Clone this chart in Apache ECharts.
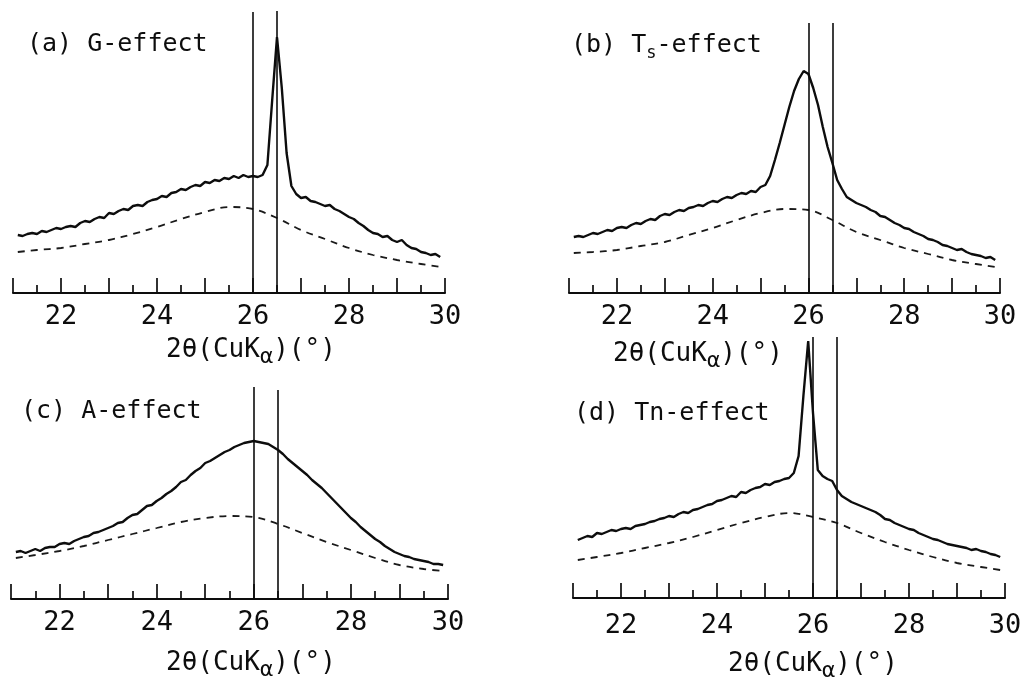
<!DOCTYPE html>
<html>
<head>
<meta charset="utf-8">
<script src="https://cdn.jsdelivr.net/npm/echarts@6/dist/echarts.min.js"></script>
<style>
  html, body { margin: 0; padding: 0; background: #fff; }
  #main { width: 1027px; height: 681px; }
</style>
</head>
<body>
<div id="main"></div>
<script>
  // 2θ (deg) sampling of the measured traces
  var xFine = [21.1, 21.2, 21.3, 21.4, 21.5, 21.6, 21.7, 21.8, 21.9, 22.0,
               22.1, 22.2, 22.3, 22.4, 22.5, 22.6, 22.7, 22.8, 22.9, 23.0,
               23.1, 23.2, 23.3, 23.4, 23.5, 23.6, 23.7, 23.8, 23.9, 24.0,
               24.1, 24.2, 24.3, 24.4, 24.5, 24.6, 24.7, 24.8, 24.9, 25.0,
               25.1, 25.2, 25.3, 25.4, 25.5, 25.6, 25.7, 25.8, 25.9, 26.0,
               26.1, 26.2, 26.3, 26.4, 26.5, 26.6, 26.7, 26.8, 26.9, 27.0,
               27.1, 27.2, 27.3, 27.4, 27.5, 27.6, 27.7, 27.8, 27.9, 28.0,
               28.1, 28.2, 28.3, 28.4, 28.5, 28.6, 28.7, 28.8, 28.9, 29.0,
               29.1, 29.2, 29.3, 29.4, 29.5, 29.6, 29.7, 29.8, 29.9];
  // 2θ sampling of the dashed (amorphous) background curves
  var xSmooth = [21.1, 21.5, 22, 22.5, 23, 23.5, 24, 24.5, 25, 25.5, 26, 26.5, 27, 27.5, 28, 28.5, 29, 29.5, 29.9];

  // intensity, arbitrary units
  var gSolid = [58, 57, 59, 60, 59, 62, 61, 63, 65, 64,
                66, 67, 66, 70, 72, 71, 74, 76, 75, 80,
                79, 82, 84, 83, 87, 88, 87, 91, 93, 94,
                97, 96, 100, 101, 104, 103, 106, 108, 107, 111,
                110, 113, 112, 115, 114, 117, 115, 118, 116, 117,
                116, 118, 128, 193, 256, 205, 140, 107, 99, 95,
                96, 92, 91, 89, 87, 88, 84, 82, 79, 76,
                74, 70, 67, 63, 60, 59, 56, 57, 53, 51,
                53, 48, 45, 44, 41, 40, 38, 39, 36];
  var gDashed = [41, 43, 45, 49, 53, 59, 66, 74, 81, 86, 84, 75, 63, 54, 45, 38, 33, 29, 26];

  var tsSolid = [56, 57, 56, 58, 60, 59, 61, 63, 62, 65,
                 66, 65, 68, 70, 69, 72, 74, 73, 77, 79,
                 78, 81, 83, 82, 85, 86, 88, 87, 90, 92,
                 91, 94, 96, 95, 98, 100, 99, 102, 101, 106,
                 108, 117, 133, 150, 168, 186, 202, 214, 222, 219,
                 205, 188, 166, 146, 130, 113, 104, 96, 93, 90,
                 88, 86, 83, 81, 77, 76, 73, 70, 68, 65,
                 64, 61, 59, 57, 54, 53, 51, 48, 47, 45,
                 43, 44, 41, 39, 38, 37, 35, 36, 33];
  var tsDashed = [40, 41, 43, 47, 51, 58, 65, 73, 80, 84, 83, 73, 61, 53, 45, 39, 33, 29, 26];

  var aSolid = [47, 48, 46, 48, 50, 48, 51, 52, 52, 55,
                56, 55, 58, 60, 62, 63, 66, 67, 69, 71,
                73, 76, 77, 81, 84, 85, 89, 93, 94, 98,
                101, 105, 108, 112, 117, 119, 124, 128, 131, 136,
                138, 141, 144, 147, 149, 152, 154, 156, 157, 158,
                157, 156, 155, 152, 149, 145, 140, 136, 132, 128,
                124, 119, 115, 111, 106, 101, 96, 91, 86, 81,
                77, 72, 68, 64, 60, 57, 53, 50, 47, 45,
                43, 42, 40, 39, 38, 37, 35, 35, 34];
  var aDashed = [41, 44, 48, 53, 59, 65, 71, 77, 81, 83, 82, 75, 66, 57, 49, 41, 34, 30, 28];

  var tnSolid = [58, 60, 62, 61, 65, 64, 66, 68, 67, 69,
                 70, 69, 72, 73, 74, 76, 77, 79, 80, 82,
                 81, 84, 86, 85, 88, 89, 91, 93, 94, 97,
                 98, 100, 102, 101, 106, 105, 108, 110, 111, 114,
                 113, 116, 117, 119, 120, 125, 142, 202, 257, 185,
                 128, 122, 119, 117, 108, 102, 99, 96, 94, 92,
                 90, 88, 86, 83, 79, 78, 75, 73, 71, 69,
                 68, 65, 63, 61, 59, 58, 56, 54, 53, 52,
                 51, 50, 48, 49, 47, 46, 44, 43, 41];
  var tnDashed = [38, 41, 45, 50, 55, 61, 68, 75, 81, 85, 81, 75, 65, 56, 48, 41, 35, 31, 28];

  // reference lines (2θ) and how high each one is drawn
  var markerX = [26, 26.5];
  var gMarkTop = [281, 282];
  var tsMarkTop = [270, 270];
  var aMarkTop = [212, 209];
  var tnMarkTop = [261, 261];

  var tickLabels = [22, 24, 26, 28, 30];

  var FONT = 'DejaVu Sans Mono';
  var INK = '#0d0d0d';

  var panels = [
    {title: '(a) G-effect', solid: gSolid, dashed: gDashed, markTop: gMarkTop,
     grid: {left: 13, top: 3, width: 432, height: 290}, labelMargin: 10,
     titlePos: [27, 32], namePos: [166, 332]},
    {title: '(b) T{sub|s}-effect', solid: tsSolid, dashed: tsDashed, markTop: tsMarkTop,
     grid: {left: 569, top: 3, width: 431, height: 290}, labelMargin: 10,
     titlePos: [571, 29], namePos: [613, 336]},
    {title: '(c) A-effect', solid: aSolid, dashed: aDashed, markTop: aMarkTop,
     grid: {left: 11, top: 309, width: 437, height: 290}, labelMargin: 10,
     titlePos: [21, 399], namePos: [166, 645]},
    {title: '(d) Tn-effect', solid: tnSolid, dashed: tnDashed, markTop: tnMarkTop,
     grid: {left: 573, top: 308, width: 432, height: 290}, labelMargin: 14,
     titlePos: [574, 401], namePos: [728, 646]}
  ];

  var subRich = {
    sub: {fontFamily: FONT, fontSize: 17, color: INK, padding: [16, 0, 0, 0]}
  };

  var option = {
    animation: false,
    backgroundColor: '#fff',
    title: [],
    grid: [],
    xAxis: [],
    yAxis: [],
    series: []
  };

  panels.forEach(function (p, i) {
    option.grid.push(p.grid);

    option.title.push({
      text: p.title,
      left: p.titlePos[0], top: p.titlePos[1], padding: 0,
      textStyle: {fontFamily: FONT, fontSize: 25, fontWeight: 'normal', color: INK, rich: subRich}
    });
    option.title.push({
      text: '2θ(CuK{sub|α})(°)',
      left: p.namePos[0], top: p.namePos[1], padding: 0,
      textStyle: {fontFamily: FONT, fontSize: 26, fontWeight: 'normal', color: INK,
                  rich: {sub: {fontFamily: FONT, fontSize: 22, color: INK, padding: [14, 0, 0, 0]}}}
    });

    option.xAxis.push({
      gridIndex: i, type: 'value', min: 21, max: 30, interval: 1,
      axisLine: {lineStyle: {color: INK, width: 2}},
      axisTick: {inside: true, length: 15, lineStyle: {color: INK, width: 1.7}},
      minorTick: {show: true, splitNumber: 2, length: 8, lineStyle: {color: INK, width: 1.7}},
      splitLine: {show: false},
      axisLabel: {
        margin: p.labelMargin, color: INK, fontSize: 27, fontFamily: FONT,
        formatter: function (v) { return tickLabels.indexOf(v) >= 0 ? String(v) : ''; }
      }
    });
    option.yAxis.push({gridIndex: i, type: 'value', min: 0, max: 290, show: false});

    option.series.push({
      type: 'line', xAxisIndex: i, yAxisIndex: i, silent: true,
      symbol: 'none',
      data: xFine.map(function (x, k) { return [x, p.solid[k]]; }),
      lineStyle: {color: INK, width: 2.4}
    });
    option.series.push({
      type: 'line', xAxisIndex: i, yAxisIndex: i, silent: true,
      symbol: 'none', smooth: 0.35,
      data: xSmooth.map(function (x, k) { return [x, p.dashed[k]]; }),
      lineStyle: {color: '#1a1a1a', width: 1.8, type: [7, 6]},
      markLine: {
        silent: true, symbol: ['none', 'none'], label: {show: false},
        lineStyle: {color: INK, width: 1.6, type: 'solid'},
        data: markerX.map(function (x, k) {
          return [{coord: [x, 0]}, {coord: [x, p.markTop[k]]}];
        })
      }
    });
  });

  var chart = echarts.init(document.getElementById('main'));
  chart.setOption(option);
</script>
</body>
</html>
